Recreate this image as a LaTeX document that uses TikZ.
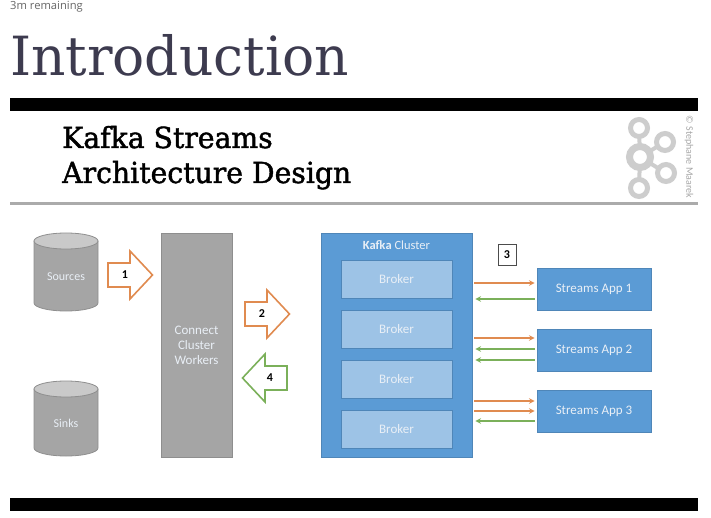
\documentclass[tikz,border=0pt]{standalone}
\usepackage{fontspec}
\setmainfont{Carlito}
\newfontfamily\pagefont{Open Sans}
\newfontfamily\headfont[FakeStretch=0.99]{DejaVu Serif}
\newfontfamily\slidefont[FakeStretch=0.975,FakeBold=1.5]{DejaVu Serif}
\definecolor{headink}{HTML}{3D3B4F}
\definecolor{cylgray}{HTML}{A5A5A5}
\definecolor{cyltop}{HTML}{C9C9C9}
\definecolor{edgegray}{HTML}{8E8E8E}
\definecolor{kblue}{HTML}{5B9BD5}
\definecolor{kedge}{HTML}{4F86B8}
\definecolor{brokerblue}{HTML}{9DC3E6}
\definecolor{orangeline}{HTML}{E08B50}
\definecolor{greenline}{HTML}{7BB05A}
\definecolor{logogray}{HTML}{CDCDCD}
\definecolor{softwhite}{HTML}{E9EFF6}
\tikzset{>=stealth,
  storetext/.style={inner sep=0pt, text=softwhite, font=\fontsize{12}{14}\selectfont},
  block/.style={rectangle, draw=#1, line width=0.8pt, inner sep=0pt, text=softwhite, align=center, font=\fontsize{13}{15}\selectfont},
  number/.style={inner sep=0pt, font=\bfseries\fontsize{12}{14}\selectfont},
  toapp/.style={->, orangeline, line width=1.5pt, shorten <=2pt, shorten >=2pt},
  fromapp/.style={->, greenline, line width=1.5pt, shorten >=3pt, shorten <=2pt}}
\begin{document}
\begin{tikzpicture}[x=1pt,y=-1pt]
\useasboundingbox (0,0) rectangle (711,518);
\node (remaining) at (10,6.5) [anchor=west, inner sep=0pt, text=black!60, font=\pagefont\fontsize{11.2}{13}\selectfont] {3m remaining};
\node (intro) at (10,76) [anchor=base west, inner sep=0pt, text=headink, font=\headfont\fontsize{54}{60}\selectfont] {Introduction};
\fill[black] (10,98) rectangle (698,111);
\fill[black] (10,498) rectangle (698,511);
\fill[black!33] (10,202) rectangle (698,205);
\node (titleA) at (62,148) [anchor=base west, inner sep=0pt, font=\slidefont\fontsize{29}{32}\selectfont] {Kafka Streams};
\node (titleB) at (62,183) [anchor=base west, inner sep=0pt, font=\slidefont\fontsize{29}{32}\selectfont] {Architecture Design};
\coordinate (Lc) at (640,157);
\coordinate (Lt) at (639,128);
\coordinate (Lu) at (665,142);
\coordinate (Ld) at (666,173);
\coordinate (Lb) at (639,188);
\foreach \p in {Lt,Lu,Ld,Lb}
\draw[logogray, line width=4pt] (Lc) -- (\p);
\foreach \p in {Lt,Lu,Ld,Lb}
\draw[logogray, line width=5pt, fill=white] (\p) circle (8.5pt);
\draw[logogray, line width=7pt, fill=white] (Lc) circle (10.5pt);
\node (credit) at (689,157) [rotate=-90, inner sep=0pt, text=black!35, font=\fontsize{10}{12}\selectfont] {© Stephane Maarek};
\foreach \t/\b in {241/303,389/448} {
\draw[edgegray, line width=0.8pt, fill=cylgray] (34,\t) -- (34,\b) arc[start angle=180, end angle=360, x radius=32pt, y radius=8pt] -- (98,\t) -- cycle;
\draw[edgegray, line width=0.8pt, fill=cyltop] (66,\t) ellipse [x radius=32pt, y radius=8pt];
}
\node (sources) at (66,277) [storetext] {Sources};
\node (sinks) at (66,423) [storetext] {Sinks};
\node (connect) at (196.5,345) [block=edgegray, fill=cylgray, minimum width=71pt, minimum height=224pt] {Connect\\Cluster\\Workers};
\foreach \x/\y/\s/\c in {130/275/1/orangeline,267/314/1/orangeline,265/378/-1/greenline}
\draw[\c, line width=1.6pt, fill=white, shift={(\x,\y)}, xscale=\s] (-22,-12) -- (0,-12) -- (0,-24) -- (22.5,0) -- (0,24) -- (0,12) -- (-22,12) -- cycle;
\node (one) at (125,275) [number] {1};
\node (two) at (262,314) [number] {2};
\node (four) at (270,378) [number] {4};
\node (kafka) at (396.5,345) [block=kedge, fill=kblue, minimum width=151pt, minimum height=224pt] {};
\node (ktitle) at (396.5,245) [inner sep=0pt, text=softwhite, font=\fontsize{12.5}{14}\selectfont] {\textbf{Kafka} Cluster};
\foreach \i/\y in {1/279,2/329,3/379,4/429}
\node (B\i) at (396.5,\y) [block=kedge, fill=brokerblue, minimum width=111pt, minimum height=38pt] {Broker};
\node (A1) at (594,289) [block=kedge, fill=kblue, minimum width=114pt, minimum height=42pt] {Streams App 1};
\node (A2) at (594,350) [block=kedge, fill=kblue, minimum width=114pt, minimum height=42pt] {Streams App 2};
\node (A3) at (594,411) [block=kedge, fill=kblue, minimum width=114pt, minimum height=42pt] {Streams App 3};
\node (three) at (507,254.5) [draw=black!70, line width=0.8pt, minimum width=18pt, minimum height=21pt, number] {3};
\foreach \y/\a in {283/A1,338/A2,401/A3,411/A3}
\draw[toapp] (kafka.east |- 0,\y) -- (\a.west |- 0,\y);
\foreach \y/\a in {299/A1,349/A2,360/A2,421/A3}
\draw[fromapp] (\a.west |- 0,\y) -- (kafka.east |- 0,\y);
\end{tikzpicture}
\end{document}
